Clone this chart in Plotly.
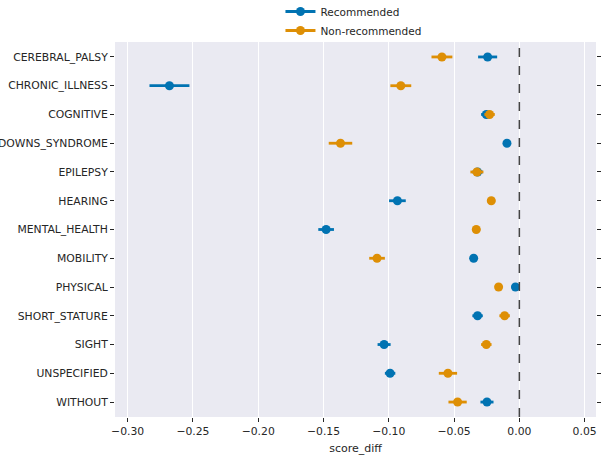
import plotly.graph_objects as go

categories = ["CEREBRAL_PALSY", "CHRONIC_ILLNESS", "COGNITIVE", "DOWNS_SYNDROME", "EPILEPSY",
              "HEARING", "MENTAL_HEALTH", "MOBILITY", "PHYSICAL", "SHORT_STATURE",
              "SIGHT", "UNSPECIFIED", "WITHOUT"]

rec_mean = [-0.0243, -0.268, -0.0253, -0.0095, -0.032, -0.0934, -0.148, -0.035, -0.003,
            -0.032, -0.1036, -0.099, -0.0248]
rec_err = [0.0073, 0.0153, 0.004, 0.003, 0.004, 0.0064, 0.006, 0.002, 0.001,
           0.004, 0.005, 0.004, 0.005]

non_mean = [-0.0593, -0.0908, -0.0228, -0.137, -0.0325, -0.0215, -0.033, -0.109, -0.0159,
            -0.0113, -0.0253, -0.0547, -0.0473]
non_err = [0.008, 0.008, 0.004, 0.009, 0.005, 0.003, 0.003, 0.006, 0.002,
           0.004, 0.004, 0.007, 0.007]

x_ticks = [-0.30, -0.25, -0.20, -0.15, -0.10, -0.05, 0.00, 0.05]
x_ticklabels = ["\u22120.30", "\u22120.25", "\u22120.20", "\u22120.15", "\u22120.10", "\u22120.05", "0.00", "0.05"]

BLUE = "#0173b2"
ORANGE = "#de8f05"
TXT = "#262626"

fig = go.Figure()

for name, means, errs, col in [("Recommended", rec_mean, rec_err, BLUE),
                               ("Non-recommended", non_mean, non_err, ORANGE)]:
    fig.add_trace(go.Scatter(
        x=means, y=categories, mode="markers", showlegend=False,
        marker=dict(color=col, size=9, line=dict(width=0)),
        error_x=dict(type="data", array=errs, color=col, thickness=2.8, width=0),
    ))

# legend entries
for name, col in [("Recommended", BLUE), ("Non-recommended", ORANGE)]:
    fig.add_trace(go.Scatter(
        x=[None], y=[None], mode="lines+markers", name=name,
        marker=dict(color=col, size=9), line=dict(color=col, width=3),
    ))

# invisible trace for right-side ticks
fig.add_trace(go.Scatter(x=[None] * len(categories), y=categories, yaxis="y2",
                         mode="markers", showlegend=False, hoverinfo="skip"))

fig.add_shape(type="line", xref="x", yref="paper", x0=0, x1=0, y0=0, y1=1,
              line=dict(color="#444444", width=1.5, dash="dash"))

fig.update_layout(
    width=601, height=459,
    margin=dict(l=115, r=5, t=42, b=42, autoexpand=False),
    paper_bgcolor="white",
    plot_bgcolor="#eaeaf2",
    font=dict(family="DejaVu Sans", size=10.8, color=TXT),
    legend=dict(x=0.344, y=1.12, xanchor="left", yanchor="top",
                bgcolor="rgba(0,0,0,0)", font=dict(size=10.5),
                tracegroupgap=0, itemwidth=30),
    xaxis=dict(range=[-0.3097, 0.0587], tickvals=x_ticks, ticktext=x_ticklabels,
               showgrid=True, gridcolor="white", gridwidth=1, zeroline=False,
               ticks="outside", ticklen=4, tickcolor=TXT, showline=False, automargin=False,
               title=dict(text="score_diff", font=dict(size=11), standoff=7)),
    yaxis=dict(categoryorder="array", categoryarray=categories, autorange=False,
               range=[12.52, -0.52], automargin=False,
               showgrid=False, zeroline=False, ticks="outside", ticklen=4, tickcolor=TXT),
    yaxis2=dict(overlaying="y", side="right", matches="y", showticklabels=False,
                showgrid=False, zeroline=False, ticks="outside", ticklen=4, tickcolor=TXT,
                automargin=False, categoryorder="array", categoryarray=categories),
)

fig.write_html("out.html")
